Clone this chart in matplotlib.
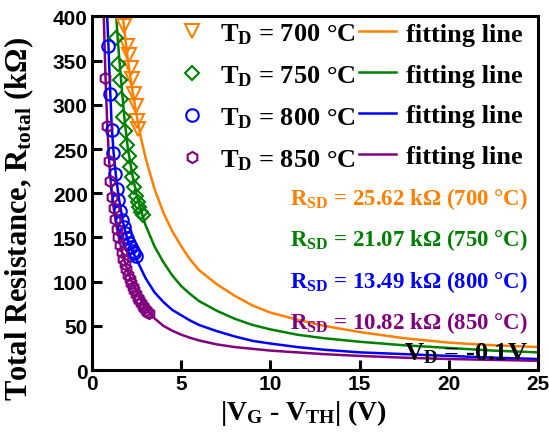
import matplotlib.pyplot as plt
from matplotlib.lines import Line2D

plt.rcParams['mathtext.fontset'] = 'custom'
plt.rcParams['mathtext.default'] = 'regular'

# measured points
v_700 = [1.78, 1.97, 2.06, 2.16, 2.25, 2.34, 2.44, 2.53, 2.59]
r_700 = [389, 367, 356, 342, 329, 312, 299, 282, 273]

v_750 = [1.35, 1.45, 1.55, 1.65, 1.75, 1.85, 1.95, 2.05, 2.15, 2.25, 2.35, 2.45, 2.55, 2.65, 2.75, 2.85]
r_750 = [376, 346, 328, 307, 286, 270, 255, 242, 230, 218, 207, 197, 190, 184, 179, 175]

v_800 = [0.92, 1.02, 1.11, 1.2, 1.29, 1.38, 1.47, 1.57, 1.67, 1.77, 1.87, 1.97, 2.07, 2.17, 2.27, 2.37, 2.47]
r_800 = [367, 312, 272, 245, 222, 205, 192, 180, 170, 162, 155, 149, 144, 139, 135, 132, 129]

v_850 = [0.75, 0.85, 0.94, 1.03, 1.12, 1.21, 1.3, 1.39, 1.48, 1.57, 1.66, 1.75, 1.84, 1.93,
         2.02, 2.11, 2.2, 2.29, 2.38, 2.47, 2.56, 2.65, 2.74, 2.83, 2.92, 3.01, 3.1, 3.18]
r_850 = [330, 276, 237, 214, 196, 183, 171, 160, 150, 141, 133, 126, 120, 114,
         108, 103, 98, 94, 90, 86, 82, 79, 76, 73, 70, 68, 66, 64]

# fitting lines
fv_700 = [1.73, 1.85, 2.0, 2.25, 2.5, 2.75, 3.0, 3.5, 4.0, 4.5, 5.0, 5.5, 6.0, 7.0, 8.0, 9.0, 10, 11.5, 13, 15, 17.5, 20, 22.5, 25]
fr_700 = [400, 378, 352, 318, 288, 262, 240, 205, 178, 157, 140, 125, 113, 97, 84, 73, 65, 57, 50, 43, 36, 31, 28, 26]

fv_750 = [1.36, 1.45, 1.6, 1.8, 2.0, 2.25, 2.5, 2.75, 3.0, 3.5, 4.0, 4.5, 5.0, 5.5, 6.0, 7.0, 8.0, 9.0, 10, 11.5, 13, 15, 17.5, 20, 22.5, 25]
fr_750 = [400, 372, 335, 288, 252, 222, 198, 180, 164, 140, 122, 107, 95, 86, 78, 67, 58, 51, 46, 40, 36, 32, 28, 25, 22, 20]

fv_800 = [0.85, 0.92, 1.0, 1.1, 1.2, 1.35, 1.5, 1.75, 2.0, 2.25, 2.5, 3.0, 3.5, 4.0, 4.5, 5.0, 5.5, 6.0, 7.0, 8.0, 9.0, 10, 11.5, 13, 15, 17.5, 20, 22.5, 25]
fr_800 = [400, 367, 325, 278, 248, 218, 195, 166, 147, 135, 125, 104, 88, 77, 68, 62, 56, 51, 44, 38, 33, 30, 26, 23, 20, 18, 16, 14, 12.5]

fv_850 = [0.66, 0.75, 0.85, 0.95, 1.05, 1.2, 1.35, 1.5, 1.75, 2.0, 2.25, 2.5, 2.75, 3.0, 3.25, 3.5, 4.0, 4.5, 5.0, 5.5, 6.0, 7.0, 8.0, 9.0, 10, 11.5, 13, 15, 17.5, 20, 22.5, 25]
fr_850 = [400, 335, 280, 240, 212, 185, 165, 150, 128, 112, 99, 88, 79, 70, 64, 58.5, 50, 44.5, 40, 36.5, 33.5, 29, 26, 24, 22, 20, 18, 16, 14, 12.5, 11.5, 10.5]

temps = ['700', '750', '800', '850']
rsd = ['25.62', '21.07', '13.49', '10.82']
colors = ['#FF8000', '#008000', '#0000FF', '#800080']
markers = ['v', 'D', 'o', 'h']
msizes = [10, 7.5, 9, 8]

pts = [(v_700, r_700), (v_750, r_750), (v_800, r_800), (v_850, r_850)]
fits = [(fv_700, fr_700), (fv_750, fr_750), (fv_800, fr_800), (fv_850, fr_850)]

fig = plt.figure(figsize=(5.49, 4.35), dpi=100)
ax = fig.add_axes([0.1676, 0.147, 0.8124, 0.813])

for (fx, fy), c in zip(fits, colors):
    ax.plot(fx, fy, color=c, lw=1.8, zorder=2)
for (px, py), c, m, ms in zip(pts, colors, markers, msizes):
    ax.plot(px, py, ls='none', marker=m, ms=ms, mfc='none', mec=c, mew=1.5, zorder=3)

ax.set_xlim(0, 25)
ax.set_ylim(0, 400)
ax.set_xticks([0, 5, 10, 15, 20, 25])
ax.set_yticks(range(0, 401, 50))
for s in ax.spines.values():
    s.set_linewidth(2.2)
ax.tick_params(direction='in', length=7, width=2.2, labelsize=15, pad=3)
for lab in ax.get_xticklabels() + ax.get_yticklabels():
    lab.set_fontweight('bold')
    lab.set_family('Liberation Sans')

serif = dict(family='Liberation Serif', weight='bold')
ax.set_xlabel('|$V_G$ - $V_{TH}$| (V)', fontsize=20, **serif)
ax.set_ylabel('Total Resistance, $R_{total}$ (k\u03a9)', fontsize=22, **serif)
ax.xaxis.set_label_coords(0.473, -0.075)
ax.yaxis.set_label_coords(-0.125, 0.43)

# legend: markers in first column, fitting lines in second
h_pts = [Line2D([], [], ls='none', marker=m, ms=ms, mfc='none', mec=c, mew=1.5)
         for c, m, ms in zip(colors, markers, msizes)]
h_lines = [Line2D([], [], color=c, lw=1.8) for c in colors]
labels = ['$T_D$ = %s \u00b0C' % t for t in temps] + ['fitting line'] * 4
leg = ax.legend(h_pts + h_lines, labels, ncol=2, loc='upper right',
                bbox_to_anchor=(1.0, 1.03), frameon=False, handlelength=1.4,
                handletextpad=0.35, columnspacing=0.15, labelspacing=0.66,
                borderaxespad=0.2, prop=dict(family='Liberation Serif', weight='bold', size=19))

for i, (t, r, c) in enumerate(zip(temps, rsd, colors)):
    ax.text(0.978, 0.487 - i * 0.117, '$R_{SD}$ = %s k\u03a9 (%s \u00b0C)' % (r, t),
            transform=ax.transAxes, ha='right', va='center', color=c, fontsize=16.5, **serif)
ax.text(0.978, 0.05, '$V_D$ = -0.1V', transform=ax.transAxes, ha='right',
        va='center', color='black', fontsize=19, **serif)

fig.savefig('out.png', dpi=100)
